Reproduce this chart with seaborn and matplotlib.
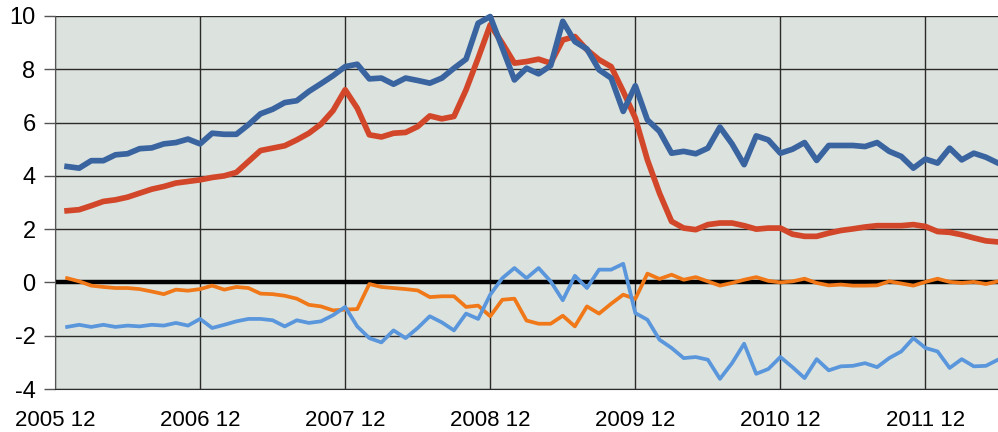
import numpy as np
import pandas as pd
import matplotlib
matplotlib.use("Agg")
import matplotlib.pyplot as plt
import seaborn as sns

# months counted from 2005-12 (month 1 = 2006-01)
months = list(range(1, 79))

dark_blue = [4.35, 4.29, 4.57, 4.57, 4.79, 4.83, 5.02, 5.05, 5.20, 5.25,
             5.38, 5.20, 5.60, 5.56, 5.56, 5.92, 6.33, 6.50, 6.75, 6.82,
             7.17, 7.46, 7.76, 8.10, 8.19, 7.64, 7.67, 7.44, 7.67, 7.58,
             7.48, 7.67, 8.04, 8.38, 9.73, 9.98, 8.80, 7.60, 8.04, 7.83,
             8.14, 9.80, 9.04, 8.76, 7.98, 7.67, 6.42, 7.38, 6.10, 5.67,
             4.85, 4.92, 4.83, 5.04, 5.83, 5.20, 4.42, 5.50, 5.35, 4.85,
             5.00, 5.25, 4.58, 5.14, 5.14, 5.14, 5.10, 5.25, 4.92, 4.73,
             4.29, 4.63, 4.48, 5.04, 4.60, 4.85, 4.70, 4.48]

red = [2.69, 2.73, 2.88, 3.04, 3.10, 3.20, 3.35, 3.50, 3.60, 3.73,
       3.79, 3.85, 3.94, 4.00, 4.13, 4.54, 4.95, 5.04, 5.13, 5.35,
       5.60, 5.94, 6.45, 7.23, 6.54, 5.54, 5.46, 5.60, 5.63, 5.85,
       6.25, 6.14, 6.23, 7.23, 8.42, 9.67, 8.98, 8.23, 8.29, 8.38,
       8.23, 9.10, 9.23, 8.73, 8.36, 8.10, 7.17, 6.17, 4.60, 3.35,
       2.29, 2.04, 1.98, 2.17, 2.23, 2.23, 2.13, 2.00, 2.04, 2.04,
       1.81, 1.73, 1.73, 1.85, 1.95, 2.01, 2.08, 2.13, 2.13, 2.13,
       2.17, 2.10, 1.91, 1.88, 1.79, 1.67, 1.56, 1.52]

orange = [0.16, 0.04, -0.12, -0.17, -0.21, -0.21, -0.25, -0.34, -0.44, -0.27,
          -0.31, -0.25, -0.12, -0.27, -0.17, -0.21, -0.42, -0.44, -0.50, -0.61,
          -0.84, -0.90, -1.05, -1.02, -1.00, -0.06, -0.17, -0.21, -0.25, -0.30,
          -0.55, -0.52, -0.52, -0.92, -0.87, -1.27, -0.65, -0.61, -1.43, -1.55,
          -1.55, -1.25, -1.65, -0.90, -1.17, -0.80, -0.46, -0.62, 0.33, 0.13,
          0.29, 0.10, 0.20, 0.04, -0.12, -0.02, 0.10, 0.20, 0.06, 0.00,
          0.04, 0.14, -0.02, -0.11, -0.08, -0.12, -0.12, -0.11, 0.04, -0.04,
          -0.12, 0.02, 0.14, 0.02, -0.02, 0.02, -0.06, 0.04]

light_blue = [-1.67, -1.59, -1.67, -1.59, -1.67, -1.62, -1.65, -1.59, -1.62, -1.52,
              -1.62, -1.37, -1.71, -1.59, -1.46, -1.37, -1.37, -1.42, -1.65, -1.42,
              -1.52, -1.46, -1.23, -0.92, -1.65, -2.09, -2.25, -1.80, -2.09, -1.71,
              -1.27, -1.50, -1.80, -1.17, -1.37, -0.46, 0.16, 0.54, 0.16, 0.54,
              0.04, -0.67, 0.25, -0.21, 0.48, 0.48, 0.70, -1.15, -1.40, -2.15,
              -2.46, -2.84, -2.80, -2.90, -3.62, -3.03, -2.30, -3.43, -3.25, -2.80,
              -3.18, -3.59, -2.88, -3.30, -3.15, -3.13, -3.03, -3.18, -2.84, -2.59,
              -2.09, -2.46, -2.59, -3.21, -2.88, -3.15, -3.13, -2.90]

tick_pos = [0, 12, 24, 36, 48, 60, 72]
tick_labels = ["2005 12", "2006 12", "2007 12", "2008 12", "2009 12", "2010 12", "2011 12"]

plt.rcParams["font.family"] = ["Liberation Sans", "DejaVu Sans"]
plt.rcParams["axes.unicode_minus"] = False

df = pd.DataFrame({"month": months, "dark_blue": dark_blue, "red": red,
                   "orange": orange, "light_blue": light_blue})

fig = plt.figure(figsize=(9.98, 4.32), dpi=100)
ax = fig.add_axes([55 / 998, 43 / 432, 943 / 998, 373 / 432])
ax.set_facecolor("#dce3de")

# zero line
ax.axhline(0, color="black", linewidth=3.2, zorder=2)

sns.lineplot(data=df, x="month", y="orange", ax=ax, color="#f07818", linewidth=2.7, zorder=3)
sns.lineplot(data=df, x="month", y="light_blue", ax=ax, color="#5a96dc", linewidth=2.7, zorder=4)
sns.lineplot(data=df, x="month", y="red", ax=ax, color="#d2472a", linewidth=4.1, zorder=5)
sns.lineplot(data=df, x="month", y="dark_blue", ax=ax, color="#3a64a0", linewidth=4.1,
             zorder=6, clip_on=False)

ax.set_xlim(0, 78)
ax.set_ylim(-4, 10)
ax.set_yticks(range(-4, 11, 2))
ax.set_xticks(tick_pos)
ax.set_xticklabels(tick_labels)
ax.grid(True, color="#2a2a2a", linewidth=1.0)
ax.set_axisbelow(True)
ax.set_xlabel("")
ax.set_ylabel("")

for s in ["top", "right"]:
    ax.spines[s].set_visible(False)
ax.spines["left"].set_color("#555555")
ax.spines["bottom"].set_color("#2a2a2a")

ax.tick_params(axis="y", length=8, width=1, color="#555555", labelsize=17, pad=6)
ax.tick_params(axis="x", length=0, labelsize=16, pad=15)

plt.savefig("out.png", dpi=100)
